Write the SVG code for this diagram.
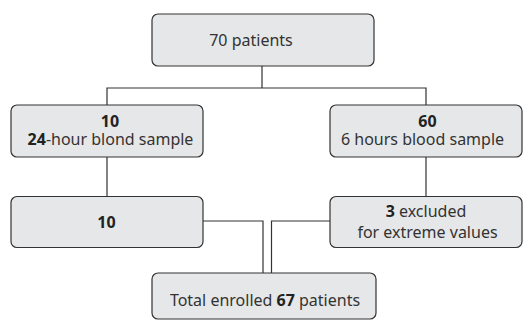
<svg xmlns="http://www.w3.org/2000/svg" width="527" height="320" viewBox="0 0 527 320">
<style>
.box{fill:#e6e7e8;stroke:#333;stroke-width:1.2}
.t{font-family:"Noto Sans","Open Sans",sans-serif;font-size:16px;fill:#333;text-anchor:middle}
.b{font-weight:bold;fill:#222}
.c{fill:none;stroke:#333;stroke-width:1.2}
</style>
<rect width="527" height="320" fill="#fff"/>
<g id="connectors">
<path class="c" d="M262,66 V88 M107,105 V88 H426 V105"/>
<path class="c" d="M107,157 V196.5 M426,157 V196.5"/>
<path class="c" d="M203,221 H263 V273 M330,221 H271.5 V273"/>
</g>
<g id="n70">
<rect class="box" x="152" y="14" width="222" height="52" rx="6"/>
<text class="t" x="251" y="46">70 patients</text>
</g>
<g id="n24h">
<rect class="box" x="11" y="105" width="192" height="52" rx="6"/>
<text class="t b" x="110" y="127">10</text>
<text class="t" x="110.5" y="145"><tspan class="b">24</tspan>-hour blond sample</text>
</g>
<g id="n6h">
<rect class="box" x="330" y="105" width="192" height="52" rx="6"/>
<text class="t b" x="427.5" y="127">60</text>
<text class="t" x="422.5" y="145">6 hours blood sample</text>
</g>
<g id="n10">
<rect class="box" x="11" y="196.5" width="192" height="51" rx="6"/>
<text class="t b" x="106.5" y="228">10</text>
</g>
<g id="nexcl">
<rect class="box" x="330" y="196.5" width="192" height="51" rx="6"/>
<text class="t" x="426" y="217"><tspan class="b">3</tspan> excluded</text>
<text class="t" x="427.5" y="238">for extreme values</text>
</g>
<g id="ntotal">
<rect class="box" x="152" y="273" width="224" height="46" rx="6"/>
<text class="t" x="265" y="306">Total enrolled <tspan class="b">67</tspan> patients</text>
</g>
</svg>
